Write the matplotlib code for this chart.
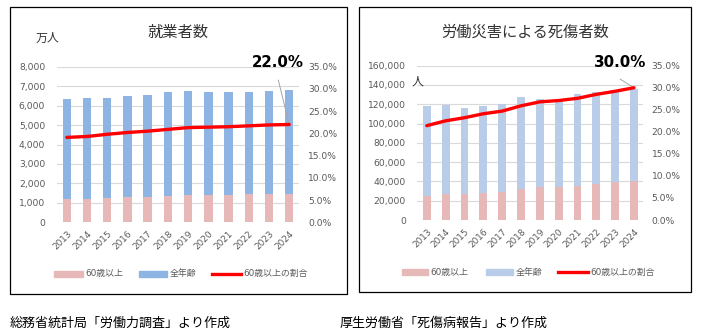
import numpy as np
import matplotlib
matplotlib.use('Agg')
import matplotlib.pyplot as plt
from matplotlib.patches import Rectangle
from matplotlib.lines import Line2D

plt.rcParams['font.family'] = ['DejaVu Sans', 'Noto Sans CJK JP']

# ---------------- data ----------------
years = ['2013', '2014', '2015', '2016', '2017', '2018',
         '2019', '2020', '2021', '2022', '2023', '2024']

# 就業者数 (万人)
emp_total = [6330, 6380, 6385, 6480, 6550, 6690, 6740, 6700, 6700, 6710, 6750, 6790]
emp_60 = [1200, 1200, 1265, 1315, 1315, 1370, 1420, 1420, 1420, 1475, 1475, 1475]
emp_ratio = [19.1, 19.3, 19.8, 20.2, 20.5, 20.9, 21.3, 21.4, 21.5, 21.7, 21.9, 22.0]

# 労働災害による死傷者数 (人)
inj_total = [118500, 119600, 116200, 118500, 120300, 127900,
             125500, 125500, 130700, 132800, 135200, 135900]
inj_60 = [24900, 27300, 27300, 28300, 29400, 32500,
          33900, 33900, 35600, 37700, 39700, 40800]
inj_ratio = [21.4, 22.5, 23.2, 24.1, 24.7, 25.9, 26.8, 27.1, 27.6, 28.5, 29.2, 30.0]

legend_labels = ['60歳以上', '全年齢', '60歳以上の割合']

W, H = 702, 335
fig = plt.figure(figsize=(W / 100, H / 100), dpi=100)


def fx(px):
    return px / W


def fy(py):
    return 1 - py / H


def make_axes(l, r, t, b):
    return fig.add_axes([fx(l), fy(b), (r - l) / W, (b - t) / H])


TICK_COLOR = '#595959'
GRID = '#D9D9D9'
PINK = '#E6B9B8'
RED = '#FF0000'


def draw_chart(ax_box, total, older, ratio, ymax, ystep, blue, lpad, rpad):
    ax = make_axes(*ax_box)
    x = np.arange(len(years))
    ax.bar(x, total, width=0.42, color=blue, zorder=2)
    ax.bar(x, older, width=0.42, color=PINK, zorder=3)
    ax.set_xlim(-0.5, len(years) - 0.5)
    ax.set_ylim(0, ymax)
    ticks = np.arange(0, ymax + 1, ystep)
    ax.set_yticks(ticks)
    ax.set_yticklabels([f'{int(t):,}' for t in ticks])
    ax.grid(axis='y', color=GRID, lw=0.8, zorder=0)
    ax.set_axisbelow(True)
    for s in ax.spines.values():
        s.set_visible(False)
    ax.tick_params(axis='y', length=0, pad=lpad, labelsize=6.6, labelcolor=TICK_COLOR)
    ax.set_xticks(x)
    ax.set_xticklabels(years, rotation=45, ha='right', va='top',
                       rotation_mode='anchor')
    ax.tick_params(axis='x', length=0, pad=5, labelsize=6.4, labelcolor=TICK_COLOR)

    ax2 = ax.twinx()
    ax2.plot(x, ratio, color=RED, lw=2.4, solid_capstyle='round', zorder=5)
    ax2.set_ylim(0, 35)
    rt = np.arange(0, 36, 5)
    ax2.set_yticks(rt)
    ax2.set_yticklabels([f'{v:.1f}%' for v in rt])
    for s in ax2.spines.values():
        s.set_visible(False)
    ax2.tick_params(axis='y', length=0, pad=rpad, labelsize=6.6, labelcolor=TICK_COLOR)
    return ax, ax2


# ---------- left chart ----------
axL, axL2 = draw_chart((56.7, 299.3, 66.7, 222.3), emp_total, emp_60, emp_ratio,
                       8000, 1000, '#8EB4E3', 8.3, 6.5)
# ---------- right chart ----------
axR, axR2 = draw_chart((417.4, 643.4, 65.7, 220.0), inj_total, inj_60, inj_ratio,
                       160000, 20000, '#B9CDE9', 8.3, 6.0)


# annotations of the last ratio value (label + thin leader line)
def annotate_last(ax2, ratio, text_xy, line_start):
    ax2.annotate('', xy=(len(years) - 1, ratio[-1]),
                 xytext=(line_start[0], H - line_start[1]), textcoords='figure pixels',
                 arrowprops=dict(arrowstyle='-', color='#A6A6A6', lw=0.7,
                                 shrinkA=0, shrinkB=0))
    fig.text(fx(text_xy[0]), fy(text_xy[1]), f'{ratio[-1]:.1f}%', ha='center',
             va='center', fontsize=10.8, fontweight='bold', color='black',
             family='DejaVu Sans')


annotate_last(axL2, emp_ratio, (278, 62.5), (278.3, 80))
annotate_last(axR2, inj_ratio, (619.7, 62.8), (620, 79))

# titles & unit labels
fig.text(fx(178.3), fy(32.8), '就業者数', ha='center', va='center',
         fontsize=11, color='#333333')
fig.text(fx(525), fy(32), '労働災害による死傷者数', ha='center', va='center',
         fontsize=11, color='#333333')
fig.text(fx(36), fy(38.7), '万人', ha='left', va='center', fontsize=8.6, color='#333333')
fig.text(fx(411.7), fy(82.3), '人', ha='left', va='center', fontsize=8.6, color='#333333')


# legends (drawn manually for exact placement)
def draw_legend(yc, pink_x, blue_x, red_x, blue_col):
    ph = 5.5
    for (x0, x1), col in ((pink_x, PINK), (blue_x, blue_col)):
        fig.patches.append(Rectangle((fx(x0), fy(yc + ph / 2)), (x1 - x0) / W, ph / H,
                                     transform=fig.transFigure, color=col))
    fig.lines.append(Line2D([fx(red_x[0]), fx(red_x[1])], [fy(yc), fy(yc)],
                            transform=fig.transFigure, color=RED, lw=2.4))
    for xs, lab in zip((pink_x, blue_x, red_x), legend_labels):
        fig.text(fx(xs[1] + 2.5), fy(yc), lab, ha='left', va='center',
                 fontsize=6.4, color=TICK_COLOR)


draw_legend(273.8, (54, 83), (139.3, 166.7), (211.7, 241), '#8EB4E3')
draw_legend(272.0, (401.7, 428.3), (486, 513.3), (558.3, 588.3), '#B9CDE9')

# frames
for (x0, y0, x1, y1) in ((10, 6.7, 346.7, 294.3), (359.3, 6.7, 691, 291.7)):
    fig.patches.append(Rectangle((fx(x0), fy(y1)), (x1 - x0) / W, (y1 - y0) / H,
                                 transform=fig.transFigure, fill=False,
                                 edgecolor='black', lw=0.9))

# footers
fig.text(fx(10), fy(323), '総務省統計局「労働力調査」より作成', ha='left', va='center',
         fontsize=9.4, color='black')
fig.text(fx(340), fy(323), '厚生労働省「死傷病報告」より作成', ha='left', va='center',
         fontsize=9.4, color='black')

fig.savefig('out.png', dpi=100)
